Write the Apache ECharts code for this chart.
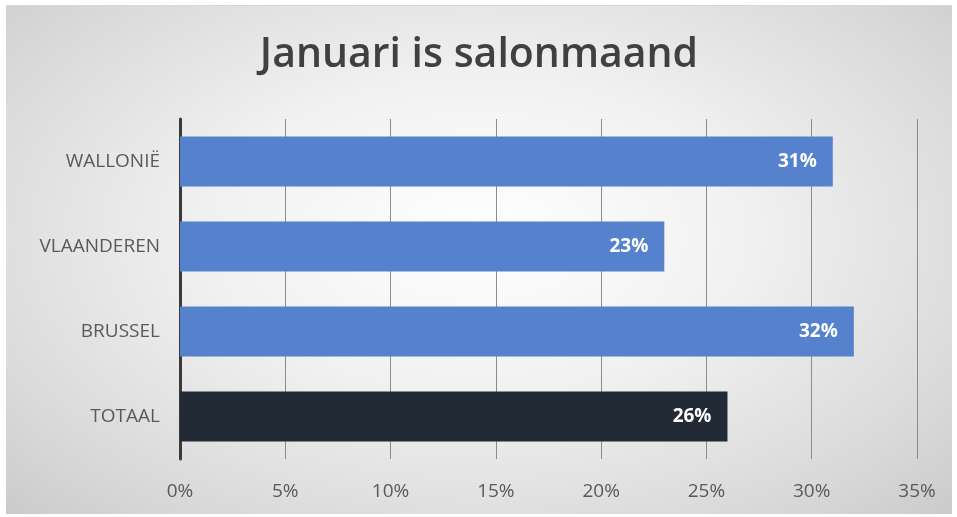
<!DOCTYPE html>
<html>
<head>
<meta charset="utf-8">
<script src="https://cdn.jsdelivr.net/npm/echarts@6/dist/echarts.min.js"></script>
<style>
  html, body { margin: 0; padding: 0; background: #fff; }
  #frame {
    position: absolute; left: 6px; top: 5px; width: 946px; height: 508px;
    background: radial-gradient(ellipse at 50% 45%, #ffffff 0%, #f1f1f1 40%, #d9d9d9 80%, #cbcbcb 100%);
    border-top: 1px solid #d8d8d8;
  }
  #chart { width: 946px; height: 508px; }
</style>
</head>
<body>
<div id="frame"><div id="chart"></div></div>
<script>
  const categories = ['WALLONIË', 'VLAANDEREN', 'BRUSSEL', 'TOTAAL'];
  const values = [31, 23, 32, 26];
  const barColors = ['#5581cd', '#5581cd', '#5581cd', '#222a35'];
  const xTicks = [0, 5, 10, 15, 20, 25, 30, 35];

  const chart = echarts.init(document.getElementById('chart'));
  chart.setOption({
    animation: false,
    title: {
      text: 'Januari is salonmaand',
      left: 'center',
      top: 24,
      textStyle: {
        fontFamily: 'Open Sans',
        fontWeight: 600,
        fontSize: 41,
        color: '#404040'
      }
    },
    grid: { left: 174, right: 35, top: 113, bottom: 55 },
    xAxis: {
      type: 'value',
      min: xTicks[0],
      max: xTicks[xTicks.length - 1],
      interval: 5,
      axisLine: { show: false },
      axisTick: { show: false },
      splitLine: { show: true, lineStyle: { color: '#8c8c8c', width: 1 } },
      axisLabel: {
        formatter: '{value}%',
        color: '#595959',
        fontFamily: 'Open Sans',
        fontSize: 19,
        margin: 23
      }
    },
    yAxis: {
      type: 'category',
      data: categories,
      inverse: true,
      axisLine: { show: true, lineStyle: { color: '#3a3a3a', width: 3 } },
      axisTick: { show: false },
      axisLabel: {
        color: '#595959',
        fontFamily: 'Open Sans',
        fontSize: 19,
        margin: 20
      }
    },
    series: [{
      type: 'bar',
      barWidth: '59%',
      data: values.map((v, i) => ({ value: v, itemStyle: { color: barColors[i] } })),
      label: {
        show: true,
        position: 'insideRight',
        distance: 16,
        formatter: '{c}%',
        color: '#ffffff',
        fontFamily: 'Open Sans',
        fontWeight: 'bold',
        fontSize: 19
      }
    }]
  });
</script>
</body>
</html>
